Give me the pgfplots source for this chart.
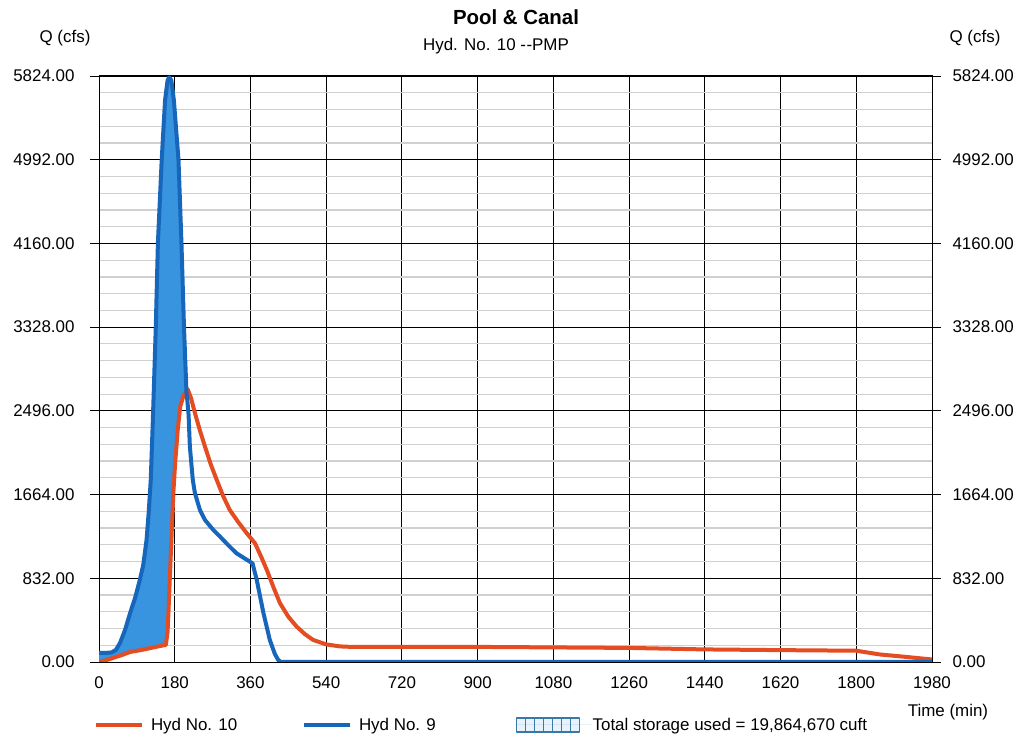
\documentclass[border=0pt]{standalone}
\usepackage{pgfplots}
\pgfplotsset{compat=1.18}
\usepgfplotslibrary{fillbetween}
\usepackage{fontspec}
\setmainfont{Liberation Sans}

\definecolor{hydred}{RGB}{228,76,34}
\definecolor{hydblue}{RGB}{22,102,188}
\definecolor{storefill}{RGB}{56,148,222}
\definecolor{boxblue}{RGB}{58,120,165}
\definecolor{gridgray}{RGB}{208,208,208}

\pgfplotsset{
  hydaxis/.style={
    scale only axis,
    width=833bp, height=586bp,
    xmin=0, xmax=1980, ymin=0, ymax=5824,
    ytick={0,832,1664,2496,3328,4160,4992,5824},
    tick align=outside,
    major tick length=9bp,
    tick style={black, line width=0.8bp},
    axis line style={black, line width=1bp},
    yticklabel={\pgfmathprintnumber[fixed, fixed zerofill, precision=2, 1000 sep={}, assume math mode=true]{\tick}},
  }
}

\begin{document}
\begin{tikzpicture}[font=\fontsize{17}{20}\selectfont]

\begin{axis}[
  hydaxis,
  at={(0,0)}, anchor=south west,
  set layers,
  xtick={0,180,...,1980},
  xticklabel={\pgfmathprintnumber[assume math mode=true, 1000 sep={}]{\tick}},
  xtick style={draw=none},
  ytick pos=left,
  minor y tick num=4,
  minor tick length=0bp,
  xmajorgrids, ymajorgrids, yminorgrids,
  major grid style={black, line width=0.9bp},
  minor grid style={gridgray, line width=1.2bp},
  xticklabel style={yshift=-2bp},
  yticklabel style={xshift=-12bp},
  legend columns=3,
  legend style={
    at={(axis description cs:-0.0060,-0.1075)}, anchor=west,
    draw=none, fill=none, inner sep=0bp, outer sep=0bp,
    column sep=0bp,
    nodes={inner sep=0bp, anchor=west},
  },
  every axis plot/.append style={line width=4bp, line join=round},
  legend image code/.code={
    \draw (0bp,0bp) -- (46bp,0bp);
    \path[draw=none] (0bp,0bp) -- (55bp,0bp);
  },
]

% rising limbs only, used for the storage area
\addplot[draw=none, name path=redA, forget plot] coordinates {
  (0,0) (15,15) (33,40) (55,70) (74,100) (95,115) (113,130) (137,152)
  (159,170) (163,300) (165,487) (169,900) (173,1311) (177,1700) (181,1977)
  (187,2300) (193,2537) (201,2650) (210,2705)
};
\addplot[draw=none, name path=blueA, forget plot] coordinates {
  (0,90) (15,90) (30,95) (40,120) (50,189) (62,320) (74,487) (86,640)
  (97,815) (105,960) (113,1212) (118,1480) (123,1808) (128,2404)
  (131,2800) (135,3331) (140,4163) (149,4987) (157,5583) (163,5780)
  (167,5810) (172,5780) (178,5583) (189,4987) (196,4163) (202,3331)
  (208,2672) (210,2600)
};

\addplot[hydred] coordinates {
  (0,0) (15,15) (33,40) (55,70) (74,100) (95,115) (113,130) (137,152)
  (159,170) (163,300) (165,487) (169,900) (173,1311) (177,1700) (181,1977)
  (187,2300) (193,2537) (201,2650) (211,2709) (219,2620) (228,2474)
  (240,2300) (252,2139) (266,1960) (280,1808) (295,1650) (311,1510)
  (331,1390) (351,1281) (371,1179) (385,1050) (399,914) (415,740)
  (430,586) (450,450) (470,351) (490,275) (509,219) (540,175) (573,155)
  (600,150) (720,150) (900,150) (1080,145) (1260,140) (1440,125)
  (1620,118) (1800,112) (1856,75) (1920,50) (1980,25)
};
\addlegendentry{\makebox[151bp][l]{Hyd No. 10}}

\addplot[hydblue] coordinates {
  (0,90) (15,90) (30,95) (40,120) (50,189) (62,320) (74,487) (86,640)
  (97,815) (105,960) (113,1212) (118,1480) (123,1808) (128,2404)
  (131,2800) (135,3331) (140,4163) (149,4987) (157,5583) (163,5780)
  (167,5810) (172,5780) (178,5583) (189,4987) (196,4163) (202,3331)
  (208,2672) (210,2600) (213,2450) (216,2139) (223,1808) (228,1678)
  (240,1510) (252,1411) (272,1311) (288,1245) (307,1162) (327,1080)
  (359,996) (365,980) (375,815) (391,484) (406,219) (418,80) (426,20)
  (432,0) (1980,0)
};
\addlegendentry{\makebox[157bp][l]{Hyd No. 9}}

\addplot[storefill, draw=none,
  legend image code/.code={
    \draw[boxblue, fill=storefill!12, line width=1.2bp] (0bp,-7bp) rectangle (63bp,7bp);
    \foreach \i in {1,...,6} {\draw[boxblue, line width=1bp] (\i*9bp,-7bp) -- (\i*9bp,7bp);}
    \path[draw=none] (0bp,0bp) -- (76bp,0bp);
  }]
  fill between[of=blueA and redA];
\addlegendentry{Total storage used = 19,864,670 cuft}
\end{axis}

\begin{axis}[
  hydaxis,
  at={(0,0)}, anchor=south west,
  axis x line=none,
  axis y line*=right,
  yticklabel style={xshift=8bp},
]
\addplot[draw=none] coordinates {(0,0) (1980,5824)};
\end{axis}

\node[font=\fontsize{20.5}{24}\selectfont\bfseries] at (417bp,645bp) {Pool \& Canal};
\node at (397bp,616bp) {Hyd. No. 10 -\kern0.5pt-PMP};
\node at (-34bp,624bp) {Q (cfs)};
\node at (876bp,624bp) {Q (cfs)};
\node at (849bp,-50bp) {Time (min)};

\pgfresetboundingbox
\useasboundingbox (-99bp,-78bp) rectangle (919bp,662bp);
\end{tikzpicture}
\end{document}
